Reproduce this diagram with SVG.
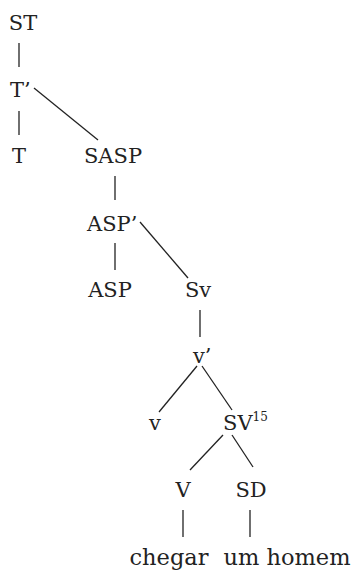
<svg xmlns="http://www.w3.org/2000/svg" width="363" height="570" viewBox="0 0 363 570">
<style>
.t{font-family:'DejaVu Serif','Liberation Serif',serif;font-size:21px;fill:#222}
.w{font-size:22.5px}
.sup{font-size:12px}
.e line{stroke:#222;stroke-width:1.3}
</style>
<rect width="363" height="570" fill="#fff"/>
<g class="e" id="edges">
<line x1="19" y1="43" x2="19" y2="67"/>
<line x1="19" y1="111" x2="19" y2="135"/>
<line x1="34" y1="88" x2="98" y2="140"/>
<line x1="115" y1="176" x2="115" y2="200"/>
<line x1="115" y1="243" x2="115" y2="270"/>
<line x1="140" y1="222" x2="188" y2="278"/>
<line x1="200" y1="310" x2="200" y2="337"/>
<line x1="197" y1="366" x2="159" y2="412"/>
<line x1="202" y1="366" x2="232" y2="410"/>
<line x1="223" y1="435" x2="190" y2="470"/>
<line x1="232" y1="435" x2="253" y2="467"/>
<line x1="183" y1="510" x2="183" y2="537"/>
<line x1="250" y1="510" x2="250" y2="537"/>
</g>
<g class="t">
<g id="ST"><text x="23" y="30" text-anchor="middle">ST</text></g>
<g id="Tbar"><text x="10" y="97">T’</text></g>
<g id="T"><text x="19" y="163" text-anchor="middle">T</text></g>
<g id="SASP"><text x="113" y="163" text-anchor="middle">SASP</text></g>
<g id="ASPbar"><text x="87" y="231">ASP’</text></g>
<g id="ASP"><text x="110" y="297" text-anchor="middle">ASP</text></g>
<g id="Sv"><text x="198" y="297" text-anchor="middle">Sv</text></g>
<g id="vbar"><text x="193" y="363">v’</text></g>
<g id="v"><text x="155" y="430" text-anchor="middle">v</text></g>
<g id="SV"><text x="223" y="430">SV<tspan class="sup" dy="-9">15</tspan></text></g>
<g id="V"><text x="183" y="497" text-anchor="middle">V</text></g>
<g id="SD"><text x="251" y="497" text-anchor="middle">SD</text></g>
<g id="chegar"><text class="w" x="169" y="565" text-anchor="middle">chegar</text></g>
<g id="umhomem"><text class="w" x="287" y="565" text-anchor="middle">um homem</text></g>
</g>
</svg>
